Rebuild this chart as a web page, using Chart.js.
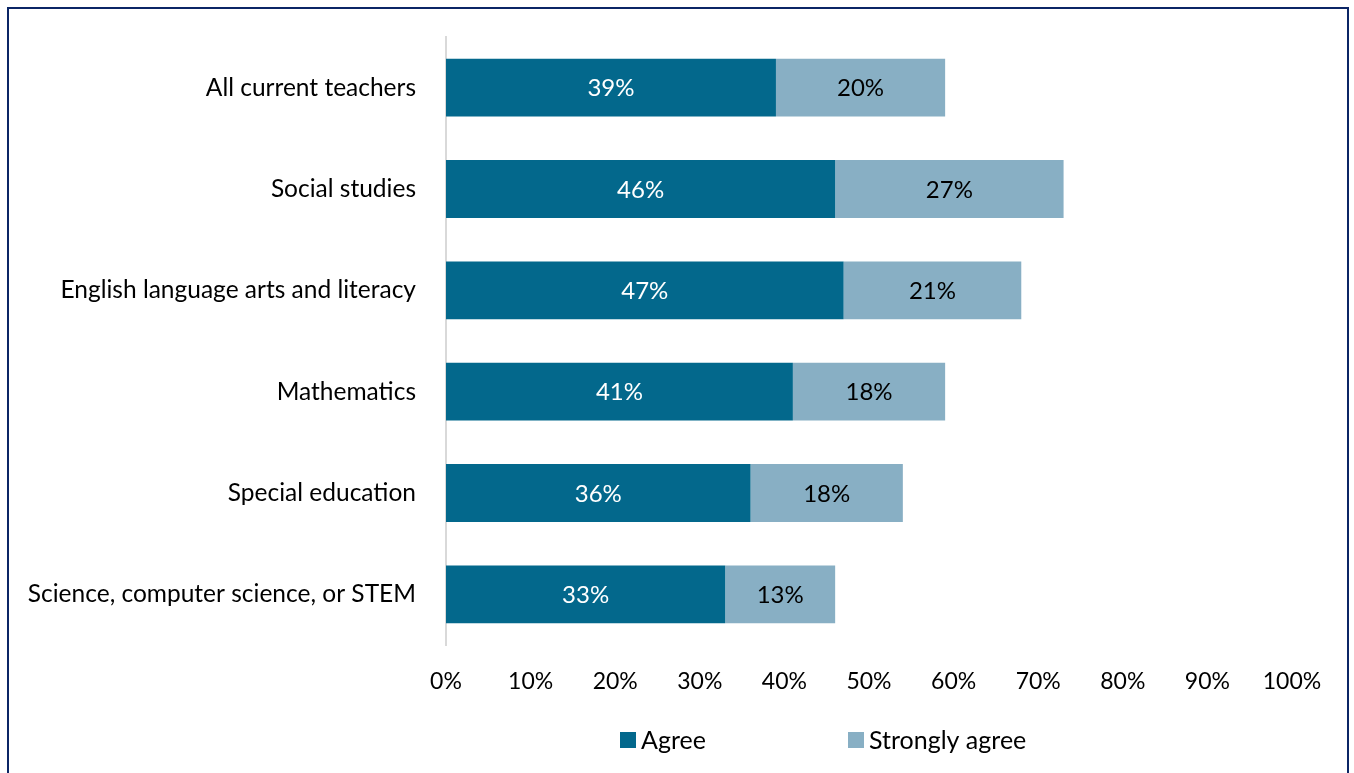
<!DOCTYPE html>
<html>
<head>
<meta charset="utf-8">
<script src="https://cdn.jsdelivr.net/npm/chart.js@4.4.0/dist/chart.umd.min.js"></script>
<style>
    html, body { margin: 0; padding: 0; background: #fff; overflow: hidden; }
    #wrap { position: relative; width: 1354px; height: 773px; }
    #frame {
        position: absolute; left: 7px; top: 7px; width: 1342px; height: 820px;
        border: 2px solid #0b2565; box-sizing: border-box;
    }
    #teacherChart { position: absolute; left: 0; top: 0; }
</style>
</head>
<body>
<div id="wrap">
    <div id="frame"></div>
    <canvas id="teacherChart" width="1354" height="773"></canvas>
</div>
<script>
// teacher groups and response shares (%)
const groups = [
    'All current teachers',
    'Social studies',
    'English language arts and literacy',
    'Mathematics',
    'Special education',
    'Science, computer science, or STEM'
];
const agree = [39, 46, 47, 41, 36, 33];
const stronglyAgree = [20, 27, 21, 18, 18, 13];
const xTicks = [0, 10, 20, 30, 40, 50, 60, 70, 80, 90, 100];

const fontFamily = 'Lato, "Liberation Sans", sans-serif';
const colors = ['#03688c', '#88afc4'];
const labelColors = ['#ffffff', '#000000'];

// prints each segment's value in the middle of the segment
const segmentLabels = {
    id: 'segmentLabels',
    afterDatasetsDraw(chart) {
        const ctx = chart.ctx;
        ctx.save();
        ctx.font = '24px ' + fontFamily;
        ctx.textAlign = 'center';
        ctx.textBaseline = 'middle';
        chart.data.datasets.forEach((ds, i) => {
            chart.getDatasetMeta(i).data.forEach((bar, j) => {
                ctx.fillStyle = labelColors[i];
                ctx.fillText(ds.data[j] + '%', (bar.x + bar.base) / 2, bar.y + 1);
            });
        });
        ctx.restore();
    }
};

// legend under the axis, two fixed-width columns
const bottomLegend = {
    id: 'bottomLegend',
    afterDraw(chart) {
        const ctx = chart.ctx;
        const area = chart.chartArea;
        const y = 740;
        ctx.save();
        ctx.font = '25px ' + fontFamily;
        ctx.textBaseline = 'middle';
        ctx.textAlign = 'left';
        chart.data.datasets.forEach((ds, i) => {
            const x = area.left + 174 + i * 228;
            ctx.fillStyle = ds.backgroundColor;
            ctx.fillRect(x, y - 8, 16, 16);
            ctx.fillStyle = '#000';
            ctx.fillText(ds.label, x + 21, y + 1);
        });
        ctx.restore();
    }
};

const ctx = document.getElementById('teacherChart').getContext('2d');
new Chart(ctx, {
    type: 'bar',
    data: {
        labels: groups,
        datasets: [
            {
                label: 'Agree',
                data: agree,
                backgroundColor: colors[0],
                borderWidth: 0,
                barPercentage: 0.57,
                categoryPercentage: 1
            },
            {
                label: 'Strongly agree',
                data: stronglyAgree,
                backgroundColor: colors[1],
                borderWidth: 0,
                barPercentage: 0.57,
                categoryPercentage: 1
            }
        ]
    },
    options: {
        indexAxis: 'y',
        responsive: false,
        animation: false,
        layout: {
            padding: { top: 37, right: 62, bottom: 78, left: 8 }
        },
        scales: {
            x: {
                stacked: true,
                min: 0,
                max: 100,
                afterBuildTicks: scale => {
                    scale.ticks = xTicks.map(v => ({ value: v }));
                },
                afterFit: scale => { scale.height = 50; },
                grid: { display: false, drawTicks: false },
                border: { display: false },
                ticks: {
                    padding: 23,
                    color: '#000',
                    font: { family: fontFamily, size: 23 },
                    callback: v => v + '%'
                }
            },
            y: {
                stacked: true,
                afterFit: scale => {
                    scale.width = 438;
                    scale.paddingTop = 0;
                    scale.paddingBottom = 0;
                },
                grid: { display: false, drawTicks: false },
                border: { display: true, color: '#d9d9d9', width: 2 },
                ticks: {
                    padding: 30,
                    color: '#000',
                    font: { family: fontFamily, size: 24.5 }
                }
            }
        },
        plugins: {
            legend: { display: false },
            tooltip: { enabled: false }
        }
    },
    plugins: [segmentLabels, bottomLegend]
});
</script>
</body>
</html>
